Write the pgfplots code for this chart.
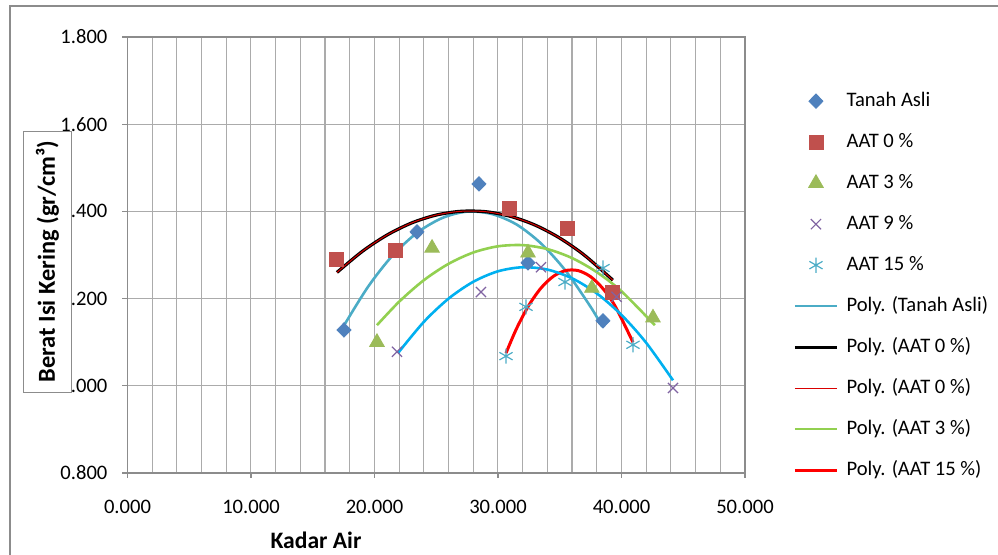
\documentclass[border=0pt]{standalone}
\usepackage{fontspec}
\setmainfont{Carlito}
\usepackage{pgfplots}
\pgfplotsset{compat=1.18}
\definecolor{cTA}{HTML}{4F81BD}
\definecolor{cA0}{HTML}{C0504D}
\definecolor{cA3}{HTML}{9BBB59}
\definecolor{cA9}{HTML}{8064A2}
\definecolor{cA15}{HTML}{4BACC6}
\definecolor{pTA}{HTML}{4BACC6}
\definecolor{pA3}{HTML}{92D050}
\definecolor{pA9}{HTML}{00B0F0}
\definecolor{pA15}{HTML}{FF0000}
\definecolor{gridc}{HTML}{ABABAB}
\definecolor{framec}{HTML}{8C8C8C}
\begin{document}
\begin{tikzpicture}
\useasboundingbox (0pt,0pt) rectangle (499pt,277.5pt);
\draw[framec, line width=0.8pt] (5pt,0pt) -- (5pt,274.5pt) -- (499pt,274.5pt);
\begin{axis}[
  at={(63.75pt,41pt)}, anchor=south west,
  scale only axis, width=308.75pt, height=218pt,
  xmin=0, xmax=50, ymin=0.8, ymax=1.8,
  xtick={0,10,20,30,40,50},
  minor xtick={2,4,6,8,12,14,16,18,22,24,26,28,32,34,36,38,42,44,46,48},
  ytick={0.8,1,1.2,1.4,1.6,1.8},
  grid=both,
  major grid style={gridc, line width=0.5pt},
  minor grid style={gridc, line width=0.6pt},
  axis line style={framec, line width=0.6pt},
  tick align=outside,
  major tick length=2.5pt, minor tick length=0pt,
  tick style={framec, line width=0.6pt},
  xtick pos=bottom, ytick pos=left,
  /pgf/number format/.cd, fixed, fixed zerofill, precision=3, assume math mode=true,
  /pgfplots/.cd,
  tick label style={font=\fontsize{10.3}{12}\selectfont},
  xticklabel style={yshift=-7.5pt},
  yticklabel style={xshift=-4pt},
  legend style={at={(1.068,0.887)}, anchor=north west, draw=none, fill=none,
    font=\fontsize{10.3}{12}\selectfont,
    nodes={inner sep=0pt, text height=8pt, text depth=2.5pt},
    row sep=10pt,
    /tikz/every odd column/.append style={column sep=4pt}},
  legend cell align=left,
  legend image code/.code={\draw[mark repeat=2,mark phase=2,#1] plot coordinates {(0pt,0pt) (10.5pt,0pt) (21pt,0pt)};},
]
% Data points
\addplot[only marks, mark=diamond*, mark size=3.6pt, mark options={xscale=1.3, fill=cTA, draw=cTA}] coordinates {
(17.53,1.128) (23.44,1.353) (28.46,1.463) (32.43,1.282) (38.50,1.149)};
\addlegendentry{Tanah Asli}
\addplot[only marks, mark=square*, mark size=3.5pt, mark options={fill=cA0, draw=cA0}] coordinates {
(16.88,1.289) (21.66,1.311) (30.89,1.408) (35.59,1.360) (39.23,1.215)};
\addlegendentry{AAT 0 \%}
\addplot[only marks, mark=triangle*, mark size=4.2pt, mark options={fill=cA3, draw=cA3}] coordinates {
(20.20,1.100) (24.66,1.316) (32.43,1.305) (37.60,1.224) (42.55,1.156)};
\addlegendentry{AAT 3 \%}
\addplot[only marks, mark=x, mark size=3.6pt, mark options={draw=cA9, line width=0.6pt}] coordinates {
(21.82,1.078) (28.62,1.215) (33.48,1.272) (39.60,1.204) (44.17,0.995)};
\addlegendentry{AAT 9 \%}
\addplot[only marks, mark=asterisk, mark size=3.8pt, mark options={draw=cA15, line width=0.6pt}] coordinates {
(30.65,1.068) (32.27,1.181) (35.43,1.238) (38.50,1.270) (40.93,1.094)};
\addlegendentry{AAT 15 \%}
% Trend lines
\addplot[pTA, line width=1.3pt, smooth, no marks] coordinates {
(17.5,1.137) (19.5,1.228) (21.5,1.300) (23.5,1.352) (25.5,1.385) (27.5,1.3995) (29.5,1.394) (31.5,1.370) (33.5,1.326) (35.5,1.263) (37.5,1.181) (38.45,1.1355)};
\addlegendentry{Poly. (Tanah Asli)}
\addplot[black, line width=1.6pt, smooth, no marks] coordinates {
(16.96,1.260) (19,1.308) (21,1.3455) (23,1.3734) (25,1.3916) (27,1.4002) (29,1.3993) (31,1.3887) (33,1.3686) (35,1.3388) (37,1.2994) (39.3,1.2423)};
\addlegendentry{Poly. (AAT 0 \%)}
\addplot[red!85!black, line width=0.5pt, smooth, no marks] coordinates {
(16.96,1.260) (19,1.308) (21,1.3455) (23,1.3734) (25,1.3916) (27,1.4002) (29,1.3993) (31,1.3887) (33,1.3686) (35,1.3388) (37,1.2994) (39.3,1.2423)};
\addlegendentry{Poly. (AAT 0 \%)}
\addplot[pA3, line width=1.3pt, smooth, no marks] coordinates {
(20.2,1.139) (22,1.193) (24,1.2423) (26,1.2798) (28,1.3057) (30,1.3199) (32,1.3226) (34,1.3135) (36,1.2929) (38,1.2606) (40,1.2167) (42.7,1.139)};
\addlegendentry{Poly. (AAT 3 \%)}
\addplot[pA15, line width=1.5pt, smooth, no marks] coordinates {
(30.65,1.075) (31.5,1.1311) (32.5,1.1847) (33.5,1.2248) (34.5,1.2514) (35.5,1.2645) (36.5,1.2641) (37.5,1.2502) (38.5,1.2228) (39.5,1.1819) (40.93,1.0999)};
\addlegendentry{Poly. (AAT 15 \%)}
\addplot[pA9, line width=1.3pt, smooth, no marks, forget plot] coordinates {
(21.9,1.075) (24,1.1467) (26,1.2000) (28,1.2386) (30,1.2626) (32,1.2719) (34,1.2665) (36,1.2465) (38,1.2119) (40,1.1625) (42,1.0986) (44.17,1.0126)};
\end{axis}
\node[draw=framec, fill=white, rotate=90, minimum width=130.5pt, minimum height=24.2pt, inner sep=0pt,
  font=\fontsize{12.2}{14}\selectfont\bfseries] at (23.75pt,146.75pt) {Berat Isi Kering (gr/cm³)};
\node[font=\fontsize{11.8}{14}\selectfont\bfseries] at (158pt,7.5pt) {Kadar Air};
\end{tikzpicture}
\end{document}
